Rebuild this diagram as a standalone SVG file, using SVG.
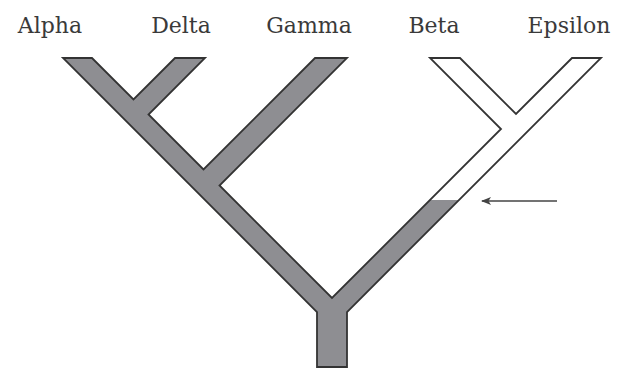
<svg xmlns="http://www.w3.org/2000/svg" width="627" height="370" viewBox="0 0 627 370">
<style>
.lbl{font-family:"DejaVu Serif","Liberation Serif",serif;font-size:22px;fill:#3a3a3a;text-anchor:middle}
.out{fill:none;stroke:#333;stroke-width:1.8;stroke-linejoin:miter}
</style>
<defs>
<marker id="ah" markerWidth="10" markerHeight="8" refX="9" refY="4" orient="auto" markerUnits="userSpaceOnUse">
<path d="M0,0 L10,4 L0,8 L2.5,4 Z" fill="#444"/>
</marker>
</defs>
<rect width="627" height="370" fill="#fff"/>
<g id="labels">
<text class="lbl" x="50" y="33">Alpha</text>
<text class="lbl" x="181" y="33">Delta</text>
<text class="lbl" x="309" y="33">Gamma</text>
<text class="lbl" x="434" y="33">Beta</text>
<text class="lbl" x="569" y="33">Epsilon</text>
</g>
<g id="tree">
<polygon fill="#8e8e92" points="63,58 92,58 133.5,99.5 175,58 205,58 148.5,114.5 203.5,169.5 315,58 347,58 219.5,185.5 332,298 430,200 459,200 347,312 347,367 317,367 317,312"/>
<polygon fill="#fff" points="430,200 501,129 430,58 460,58 516,114 572,58 601,58 459,200"/>
<polygon class="out" points="63,58 92,58 133.5,99.5 175,58 205,58 148.5,114.5 203.5,169.5 315,58 347,58 219.5,185.5 332,298 501,129 430,58 460,58 516,114 572,58 601,58 347,312 347,367 317,367 317,312"/>
</g>
<g id="connectors">
<line x1="557" y1="201" x2="482" y2="201" stroke="#444" stroke-width="1.3" marker-end="url(#ah)"/>
</g>
</svg>
